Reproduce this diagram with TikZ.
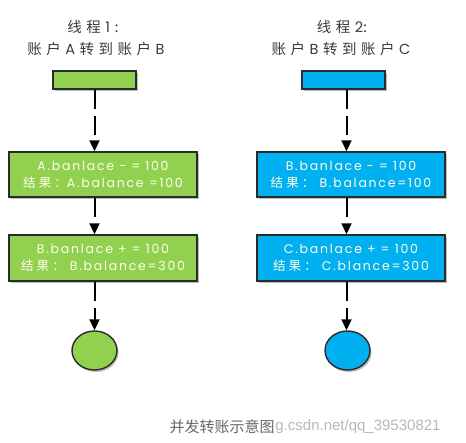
\documentclass[tikz,border=0pt]{standalone}
\usepackage{fontspec}
\setmainfont{Poppins}
\newfontfamily\cjk{Noto Sans CJK SC}
\newfontfamily\cjksp[LetterSpace=25]{Noto Sans CJK SC}
\newfontfamily\wm{Liberation Sans}
\usetikzlibrary{arrows.meta,shadows,shapes.geometric}
\definecolor{gfill}{HTML}{92D050}
\definecolor{bfill}{HTML}{00B0F0}
\definecolor{edge}{HTML}{2A2A2A}
\definecolor{titlec}{HTML}{3A3A3A}
\newcommand\gp{\hspace{4.5pt}}
\tikzset{
  shadowed/.style={drop shadow={shadow xshift=1.5pt,shadow yshift=-2pt,opacity=0.25,fill=black}},
  bar/.style={draw=edge,line width=1.4pt,minimum width=83pt,minimum height=18pt,inner sep=0pt,shadowed},
  stepbox/.style={draw=edge,line width=1.4pt,minimum width=188pt,inner sep=0pt,shadowed,
    text=white!92!yellow,align=center,font=\fontsize{12.5}{17}\selectfont\addfontfeature{LetterSpace=14}},
  endnode/.style={ellipse,draw=edge,line width=1.4pt,minimum width=45pt,minimum height=39pt,inner sep=0pt,shadowed},
  conn/.style={line width=2pt,draw=black,dash pattern=on 19pt off 7pt,-{Triangle[length=11pt,width=10pt]}},
  ttl/.style={text=titlec,font=\cjk\fontsize{14.5}{16}\selectfont},
}
\begin{document}
\begin{tikzpicture}[x=1pt,y=-1pt]
\useasboundingbox (0,0) rectangle (466,443);
% titles
\node[ttl] (t1a) at (93,27) {线\gp 程\gp {\rmfamily 1}\gp :};
\node[ttl] (t1b) at (96,49) {账\gp 户\gp {\rmfamily A}\gp 转\gp 到\gp 账\gp 户\gp {\rmfamily B}};
\node[ttl] (t2a) at (342,27) {线\gp 程\gp {\rmfamily 2}:};
\node[ttl] (t2b) at (341,49) {账\gp 户\gp {\rmfamily B}\gp 转\gp 到\gp 账\gp 户\gp {\rmfamily C}};
% left column
\node[bar,fill=gfill] (lbar) at (94.5,80) {};
\node[stepbox,fill=gfill,minimum height=45pt] (l1) at (103,174.5) {A.banlace - = 100\\{\cjksp 结果：}A.balance =100};
\node[stepbox,fill=gfill,minimum height=46pt] (l2) at (103,258) {B.banlace + = 100\\{\cjksp 结果：} B.balance=300};
\node[endnode,fill=gfill] (lend) at (94.5,350.5) {};
% right column
\node[bar,fill=bfill] (rbar) at (343.5,80) {};
\node[stepbox,fill=bfill,minimum height=45pt] (r1) at (351,174.5) {B.banlace - = 100\\{\cjksp 结果：} B.balance=100};
\node[stepbox,fill=bfill,minimum height=46pt] (r2) at (351,258) {C.banlace + = 100\\{\cjksp 结果：} C.blance=300};
\node[endnode,fill=bfill] (rend) at (347.5,350.5) {};
% connectors
\coordinate (lx) at (94.5,0);
\coordinate (rx) at (346.5,0);
\draw[conn] (lbar.south) -- (lx |- l1.north);
\draw[conn] (lx |- l1.south) -- (lx |- l2.north);
\draw[conn] (lx |- l2.south) -- (lend.north);
\draw[conn] (rx |- rbar.south) -- (rx |- r1.north);
\draw[conn] (rx |- r1.south) -- (rx |- r2.north);
\draw[conn] (rx |- r2.south) -- (rx |- rend.north);
% caption and watermark
\node[text=black!60,font=\cjk\fontsize{15}{17}\selectfont,inner sep=0pt] (cap) at (222,427) {并发转账示意图};
\node[anchor=west,text=black!28,font=\wm\fontsize{15}{17}\selectfont,inner sep=0pt] (wmark) at ([xshift=0.5pt]cap.east) {g.csdn.net/qq\_39530821};
\end{tikzpicture}
\end{document}
